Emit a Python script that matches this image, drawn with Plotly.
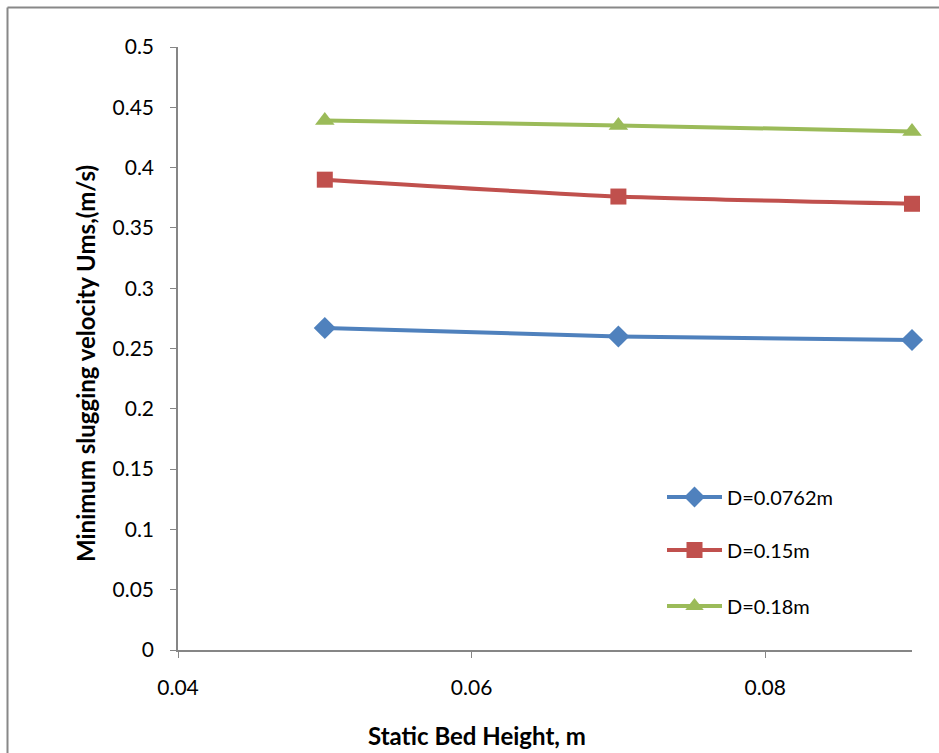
import plotly.graph_objects as go

x_height = [0.05, 0.07, 0.09]
ums_d0762 = [0.267, 0.260, 0.257]
ums_d015 = [0.390, 0.376, 0.370]
ums_d018 = [0.439, 0.435, 0.430]
series_names = ["D=0.0762m", "D=0.15m", "D=0.18m"]
y_ticks = [0, 0.05, 0.1, 0.15, 0.2, 0.25, 0.3, 0.35, 0.4, 0.45, 0.5]
y_tick_text = ["0", "0.05", "0.1", "0.15", "0.2", "0.25", "0.3", "0.35", "0.4", "0.45", "0.5"]
x_ticks = [0.04, 0.06, 0.08]
x_tick_text = ["0.04", "0.06", "0.08"]

W, H = 939, 753
L, R, T, B = 178, 27, 47, 103
pw, ph = W - L - R, H - T - B

def px(xp):
    return (xp - L) / pw

def py(yp):
    return (H - B - yp) / ph

FONT = "Lato, 'Open Sans', sans-serif"
colors = ["#4F81BD", "#C0504D", "#9BBB59"]
symbols = ["diamond", "square", "triangle-up"]
sizes = [17, 16, 17]
data = [ums_d0762, ums_d015, ums_d018]
legends = ["legend", "legend2", "legend3"]
leg_y = [497, 550, 606]

fig = go.Figure()
for i in range(3):
    fig.add_trace(go.Scatter(
        x=x_height, y=data[i], name=series_names[i], mode="lines+markers",
        line=dict(color=colors[i], width=4, shape="spline", smoothing=0.6),
        marker=dict(symbol=symbols[i], size=sizes[i], color=colors[i]),
        legend=legends[i], cliponaxis=False,
    ))

layout_legends = {}
for i in range(3):
    layout_legends[legends[i]] = dict(
        x=px(662), y=py(leg_y[i]), xanchor="left", yanchor="middle",
        bgcolor="rgba(0,0,0,0)", font=dict(family=FONT, size=20, color="#000"),
        itemwidth=55,
    )

fig.update_layout(
    width=W, height=H,
    margin=dict(l=L, r=R, t=T, b=B, pad=0),
    paper_bgcolor="white", plot_bgcolor="white",
    font=dict(family=FONT, size=21, color="#000"),
    showlegend=True,
    **layout_legends,
    xaxis=dict(
        range=[0.04, 0.09], tickvals=x_ticks, ticktext=x_tick_text,
        showgrid=False, zeroline=False, showline=True, linecolor="#868686", linewidth=1.5,
        ticks="outside", ticklen=6, tickcolor="#868686", ticklabelstandoff=12,
        tickfont=dict(family=FONT, size=21, color="#000"),
    ),
    yaxis=dict(
        range=[0, 0.5], tickvals=y_ticks, ticktext=y_tick_text,
        showgrid=False, zeroline=False, showline=True, linecolor="#868686", linewidth=1.5,
        ticks="outside", ticklen=6, tickcolor="#868686", ticklabelstandoff=12,
        tickfont=dict(family=FONT, size=21, color="#000"),
    ),
    annotations=[
        dict(text="<b>Static Bed Height, m</b>", x=px(477), y=py(735), xref="paper", yref="paper",
             showarrow=False, xanchor="center", yanchor="middle",
             font=dict(family=FONT, size=24, color="#000")),
        dict(text="<b>Minimum slugging velocity Ums,(m/s)</b>", x=px(86), y=py(364), xref="paper", yref="paper",
             showarrow=False, xanchor="center", yanchor="middle", textangle=-90,
             font=dict(family=FONT, size=24, color="#000")),
    ],
    shapes=[
        dict(type="line", xref="paper", yref="paper", x0=px(7.5), x1=px(W + 5), y0=py(7.5), y1=py(7.5),
             line=dict(color="#888888", width=2)),
        dict(type="line", xref="paper", yref="paper", x0=px(7.5), x1=px(7.5), y0=py(7.5), y1=py(H + 5),
             line=dict(color="#888888", width=2)),
    ],
)

fig.write_html("out.html")
